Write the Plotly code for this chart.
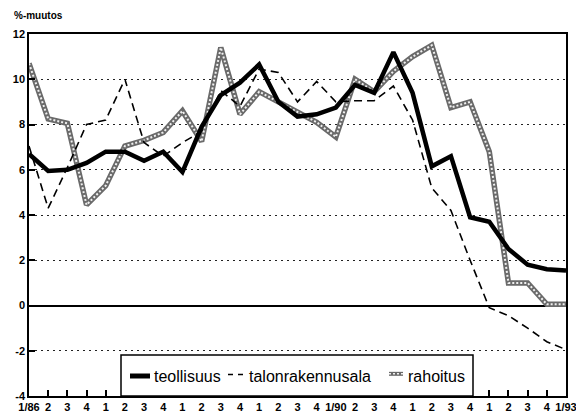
"""
Teollisuus, talonrakennusala ja rahoitus: vuosimuutos neljännesvuosittain 1/86-1/93
"""

import plotly.graph_objects as go

# neljännekset 1/86 ... 1/93
NELJANNEKSET = list(range(29))
TICK_TEKSTIT = [
    "1/86", "2", "3", "4",
    "1", "2", "3", "4",
    "1", "2", "3", "4",
    "1", "2", "3", "4",
    "1/90", "2", "3", "4",
    "1", "2", "3", "4",
    "1", "2", "3", "4",
    "1/93",
]

TEOLLISUUS = [6.7, 5.95, 6.0, 6.3, 6.8, 6.8, 6.4, 6.8, 5.9, 7.9,
              9.3, 9.85, 10.65, 9.0, 8.35, 8.45, 8.75, 9.75, 9.4, 11.2,
              9.4, 6.15, 6.6, 3.9, 3.7, 2.5, 1.8, 1.6, 1.55]
TALONRAKENNUSALA = [7.05, 4.3, 6.1, 8.0, 8.2, 10.0, 7.2, 6.6, 7.2, 7.7,
                    9.5, 8.8, 10.45, 10.3, 9.0, 9.9, 9.0, 9.05, 9.05, 9.7,
                    8.2, 5.2, 4.2, 2.0, -0.1, -0.45, -1.0, -1.6, -1.95]
RAHOITUS = [10.7, 8.25, 8.05, 4.45, 5.3, 7.05, 7.3, 7.65, 8.6, 7.25,
            11.4, 8.45, 9.45, 9.0, 8.55, 8.1, 7.45, 10.0, 9.45, 10.35,
            11.0, 11.5, 8.75, 9.0, 6.8, 1.0, 1.0, 0.05, 0.05]

Y_TICKS = [-4, -2, 0, 2, 4, 6, 8, 10, 12]
Y_TICK_TEKSTIT = ["-4", "-2", "0", "2", "4", "6", "8", "10", "12"]

FONTTI = "Arial, Liberation Sans, sans-serif"
HARMAA = "#6a6a6a"
VAALEA = "#f0f0f0"

# sivun oletusmarginaali (body 8px) siirtää kuvaa, joten kuva on pienempi
SIVU = 8
LEVEYS, KORKEUS = 584 - SIVU, 412 - SIVU
# piirtoalue ikkunan pikseleinä
VASEN, OIKEA, YLA, ALA = 29, 566, 34, 396


def px(x):
    return (x - VASEN) / (OIKEA - VASEN)


def py(y):
    return (ALA - y) / (ALA - YLA)


fig = go.Figure()

# rahoitus: harmaa "kuvioitu" viiva = tumma pohja + vaalea pisteviiva päällä
fig.add_trace(go.Scatter(
    x=NELJANNEKSET, y=RAHOITUS, mode="lines", name="rahoitus",
    line=dict(color=HARMAA, width=5.5)
))
fig.add_trace(go.Scatter(
    x=NELJANNEKSET, y=RAHOITUS, mode="lines", name="rahoitus",
    line=dict(color=VAALEA, width=2, dash="2px,2px")
))
fig.add_trace(go.Scatter(
    x=NELJANNEKSET, y=TALONRAKENNUSALA, mode="lines", name="talonrakennusala",
    line=dict(color="black", width=1.6, dash="8px,5px")
))
fig.add_trace(go.Scatter(
    x=NELJANNEKSET, y=TEOLLISUUS, mode="lines", name="teollisuus",
    line=dict(color="black", width=4.5)
))

# selitelaatikko ja merkit käsin
fig.add_shape(
    type="rect", xref="paper", yref="paper",
    x0=px(121), x1=px(473), y0=0, y1=py(355),
    line=dict(color="black", width=1.5), fillcolor="white", layer="above"
)
ly = py(376)
fig.add_shape(type="line", xref="paper", yref="paper", layer="above",
              x0=px(130), x1=px(150), y0=ly, y1=ly,
              line=dict(color="black", width=5))
fig.add_shape(type="line", xref="paper", yref="paper", layer="above",
              x0=px(228), x1=px(243), y0=ly + 0.004, y1=ly + 0.004,
              line=dict(color="black", width=1.5, dash="5px,5px"))
fig.add_shape(type="line", xref="paper", yref="paper", layer="above",
              x0=px(389), x1=px(403), y0=ly + 0.006, y1=ly + 0.006,
              line=dict(color=HARMAA, width=4))
fig.add_shape(type="line", xref="paper", yref="paper", layer="above",
              x0=px(389), x1=px(403), y0=ly + 0.006, y1=ly + 0.006,
              line=dict(color=VAALEA, width=1.5, dash="2px,2px"))

selitteet = [("teollisuus", 152), ("talonrakennusala", 247), ("rahoitus", 406)]
for teksti, x in selitteet:
    fig.add_annotation(
        text=teksti, xref="paper", yref="paper",
        x=px(x), y=ly, xanchor="left", yanchor="middle",
        showarrow=False, font=dict(family=FONTTI, size=16, color="black")
    )

fig.add_annotation(
    text="%-muutos", xref="paper", yref="paper",
    x=px(12), y=py(15), xanchor="left", yanchor="middle",
    showarrow=False, font=dict(family=FONTTI, size=10, color="black", weight="bold")
)

fig.update_layout(
    width=LEVEYS,
    height=KORKEUS,
    margin=dict(l=VASEN - SIVU, r=584 - OIKEA, t=YLA - SIVU, b=412 - ALA),
    plot_bgcolor="white",
    paper_bgcolor="white",
    font=dict(family=FONTTI, color="black"),
    showlegend=False,
    xaxis=dict(
        range=[0, 28],
        tickvals=NELJANNEKSET,
        ticktext=TICK_TEKSTIT,
        ticks="inside",
        ticklen=6,
        tickwidth=1.5,
        tickcolor="black",
        tickfont=dict(size=11, weight="bold"),
        showgrid=False,
        zeroline=False,
        showline=True,
        linecolor="black",
        linewidth=1.5,
        mirror=True,
        automargin=False,
    ),
    yaxis=dict(
        range=[-4, 12],
        tickvals=Y_TICKS,
        ticktext=Y_TICK_TEKSTIT,
        ticks="inside",
        ticklen=6,
        tickwidth=1.5,
        tickcolor="black",
        tickfont=dict(size=11, weight="bold"),
        showgrid=True,
        gridcolor="#222222",
        gridwidth=1.2,
        griddash="2px,4px",
        zeroline=True,
        zerolinecolor="black",
        zerolinewidth=1.5,
        showline=True,
        linecolor="black",
        linewidth=1.5,
        mirror=True,
        automargin=False,
    ),
)

fig.write_html("out.html")
